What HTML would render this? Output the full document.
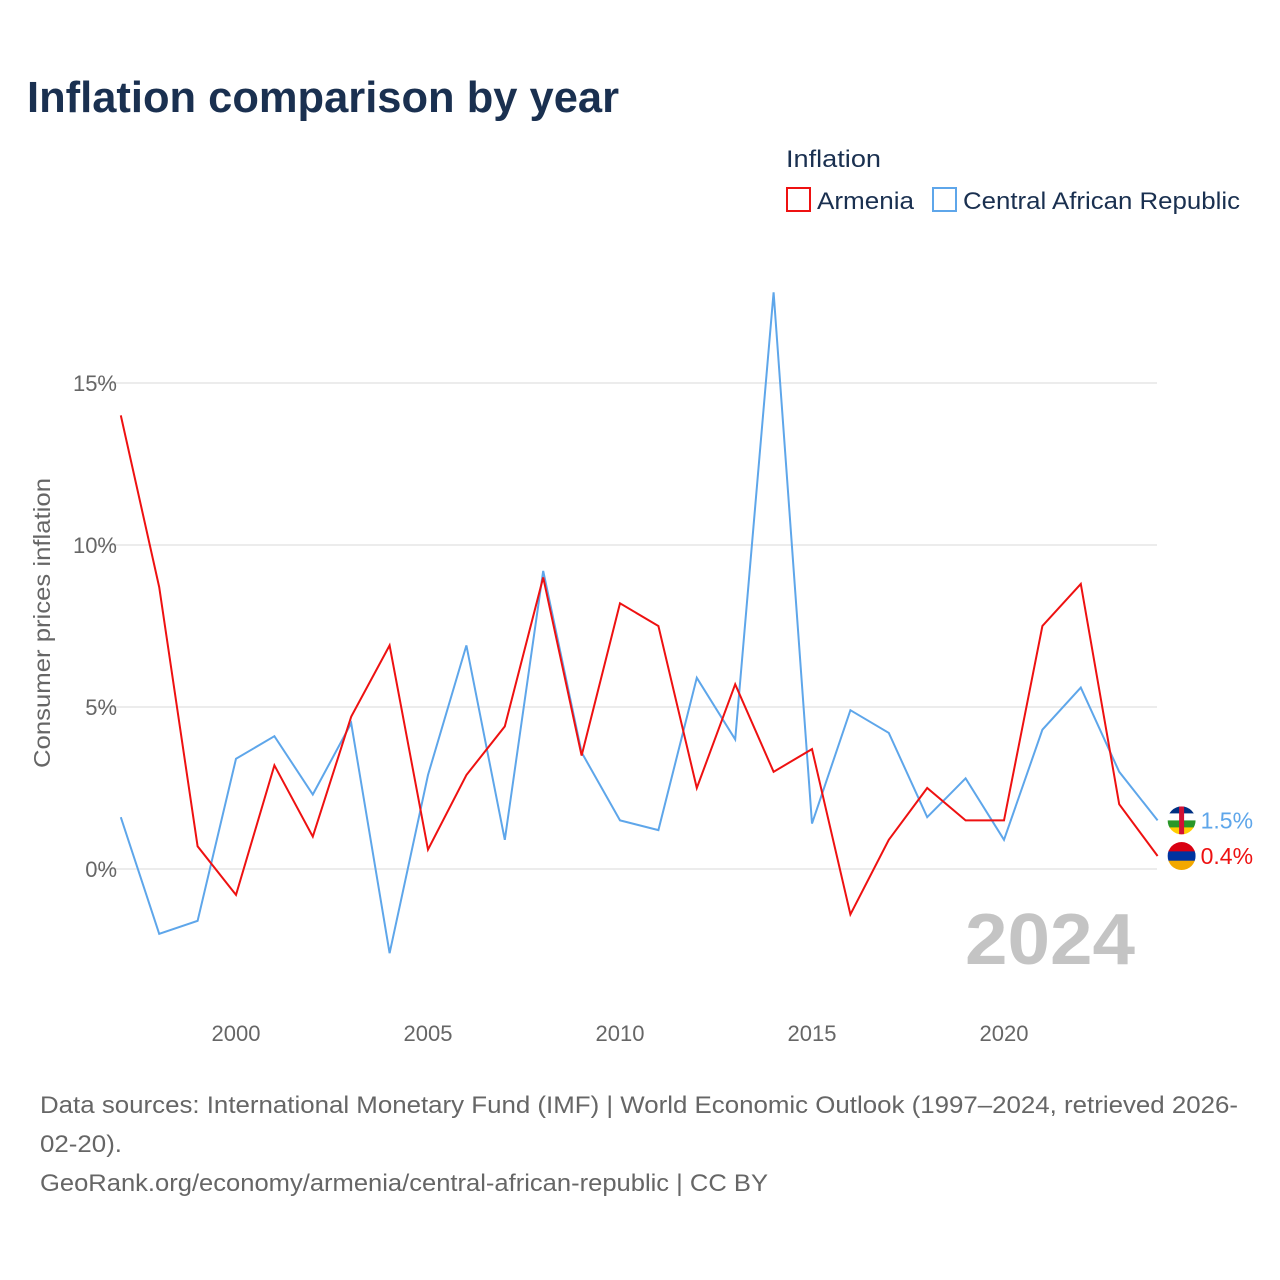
<!DOCTYPE html>
<html><head><meta charset="utf-8"><style>
body{margin:0;background:#fff;font-family:"Liberation Sans",sans-serif;}
#wrap{position:relative;width:1280px;height:1280px;overflow:hidden;}
</style></head><body><div id="wrap">
<svg id="svg" width="1280" height="1280" xmlns="http://www.w3.org/2000/svg">
<text x="27" y="112" font-size="44" font-weight="bold" fill="#1a3050" textLength="592" lengthAdjust="spacingAndGlyphs">Inflation comparison by year</text>
<text x="786" y="167" font-size="24" fill="#1a3050" textLength="95" lengthAdjust="spacingAndGlyphs">Inflation</text>
<g><rect x="787" y="188" width="23" height="23" fill="none" stroke="#ee1111" stroke-width="2"/><text x="817" y="209" font-size="24" fill="#1a3050" textLength="97" lengthAdjust="spacingAndGlyphs">Armenia</text></g>
<g><rect x="933" y="188" width="23" height="23" fill="none" stroke="#5ea6ea" stroke-width="2"/><text x="963" y="209" font-size="24" fill="#1a3050" textLength="277" lengthAdjust="spacingAndGlyphs">Central African Republic</text></g>
<text transform="translate(50,623) rotate(-90)" font-size="23" fill="#666" text-anchor="middle" textLength="290" lengthAdjust="spacingAndGlyphs">Consumer prices inflation</text>
<g id="grid"></g><g id="lines"></g>
<text x="965" y="964" font-size="72" font-weight="bold" fill="#c4c4c4" textLength="170" lengthAdjust="spacingAndGlyphs">2024</text>
<text x="40" y="1113" font-size="24" fill="#666" textLength="1198" lengthAdjust="spacingAndGlyphs">Data sources: International Monetary Fund (IMF) | World Economic Outlook (1997–2024, retrieved 2026-</text>
<text x="40" y="1152" font-size="24" fill="#666" textLength="82" lengthAdjust="spacingAndGlyphs">02-20).</text>
<text x="40" y="1191" font-size="24" fill="#666" textLength="728" lengthAdjust="spacingAndGlyphs">GeoRank.org/economy/armenia/central-african-republic | CC BY</text>
</svg></div>
<script>
const years=[1997,1998,1999,2000,2001,2002,2003,2004,2005,2006,2007,2008,2009,2010,2011,2012,2013,2014,2015,2016,2017,2018,2019,2020,2021,2022,2023,2024];
const armenia=[14.0,8.7,0.7,-0.8,3.2,1.0,4.7,6.9,0.6,2.9,4.4,9.0,3.5,8.2,7.5,2.5,5.7,3.0,3.7,-1.4,0.9,2.5,1.5,1.5,7.5,8.8,2.0,0.4];
const car=[1.6,-2.0,-1.6,3.4,4.1,2.3,4.5,-2.6,2.9,6.9,0.9,9.2,3.6,1.5,1.2,5.9,4.0,17.8,1.4,4.9,4.2,1.6,2.8,0.9,4.3,5.6,3.0,1.5];
const yTicks=[0,5,10,15];
const xTicks=[2000,2005,2010,2015,2020];
const NS="http://www.w3.org/2000/svg";
const X=y=>236+(y-2000)*38.4;
const Y=v=>869-v*32.4;
const grid=document.getElementById('grid'),lines=document.getElementById('lines');
function mk(tag,attrs,parent){const e=document.createElementNS(NS,tag);for(const k in attrs)e.setAttribute(k,attrs[k]);parent.appendChild(e);return e;}
yTicks.forEach(t=>{
 const l=mk('line',{x1:95,x2:1157,y1:Y(t),y2:Y(t),stroke:'#e6e6e6','stroke-width':1.5},grid);
 
 
 const tx=mk('text',{x:117,y:Y(t)+8,'font-size':22,fill:'#666','text-anchor':'end'},grid);
 tx.textContent=t+'%';
 
 
});
xTicks.forEach(t=>{
 const tx=mk('text',{x:X(t),y:1041,'font-size':22,fill:'#666','text-anchor':'middle'},grid);
 tx.textContent=t;
 
 
});
function series(vals,color,name,stripes){
 const d=vals.map((v,i)=>(i?'L':'M')+X(years[i]).toFixed(1)+','+Y(v).toFixed(1)).join('');
 const p=mk('path',{d:d,fill:'none',stroke:color,'stroke-width':2},lines);
 
 
 const last=vals[vals.length-1],lx=X(years[years.length-1]),ly=Y(last);
 const cx=lx+24;
 const g=mk('g',{},lines);
 
 
 const cp=mk('clipPath',{id:'clip-'+name},g);
 mk('circle',{cx:cx,cy:ly,r:14},cp);
 const gg=mk('g',{'clip-path':'url(#clip-'+name+')'},g);
 stripes.forEach((c,i)=>mk('rect',{x:cx-14,y:ly-14+i*28/stripes.length,width:28,height:28/stripes.length+0.5,fill:c},gg));
 if(name==='car') mk('rect',{x:cx-2.5,y:ly-14,width:5,height:28,fill:'#d21034'},gg);
 const t=mk('text',{x:lx+43,y:ly+8,'font-size':23,fill:color},lines);
 t.textContent=last.toFixed(1)+'%';
 
 
}
series(car,'#5ea6ea','car',['#003082','#ffffff','#289728','#ffce00']);
series(armenia,'#ee1111','armenia',['#d90012','#0033a0','#f2a800']);
</script></body></html>
